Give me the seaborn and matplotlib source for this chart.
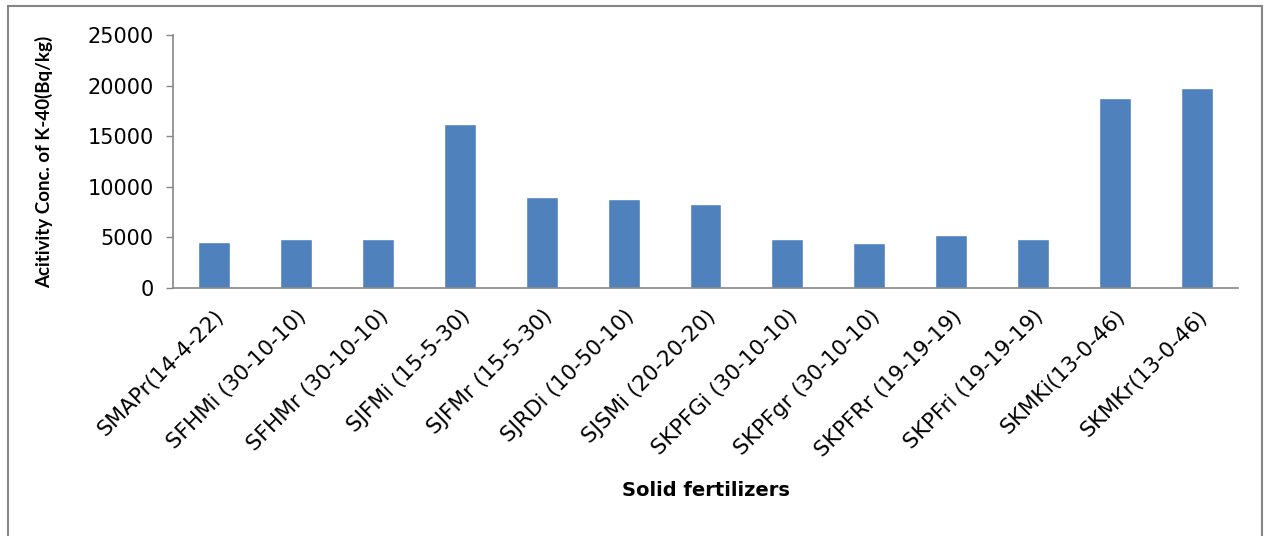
import matplotlib
matplotlib.use("Agg")
import matplotlib.pyplot as plt
import seaborn as sns
import pandas as pd
from matplotlib.patches import Rectangle

samples = [
    "SMAPr(14-4-22)", "SFHMi (30-10-10)", "SFHMr (30-10-10)", "SJFMi (15-5-30)",
    "SJFMr (15-5-30)", "SJRDi (10-50-10)", "SJSMi (20-20-20)", "SKPFGi (30-10-10)",
    "SKPFgr (30-10-10)", "SKPFRr (19-19-19)", "SKPFri (19-19-19)", "SKMKi(13-0-46)",
    "SKMKr(13-0-46)",
]
k40_activity = [4550, 4850, 4850, 16170, 8990, 8760, 8300, 4840, 4450, 5200, 4840, 18740, 19730]
y_ticks = [0, 5000, 10000, 15000, 20000, 25000]

sns.set_theme(style="white")
plt.rcParams["font.family"] = ["DejaVu Sans"]
plt.rcParams["text.color"] = "black"
plt.rcParams["axes.labelcolor"] = "black"
plt.rcParams["xtick.color"] = "black"
plt.rcParams["ytick.color"] = "black"

df = pd.DataFrame({"sample": samples, "activity": k40_activity})

W, H = 1267, 536
fig = plt.figure(figsize=(W / 100, H / 100), dpi=100)
ax = fig.add_axes([173 / W, 1 - 288 / H, (1238 - 173) / W, (288 - 35) / H])

sns.barplot(data=df, x="sample", y="activity", color="#4F81BD", width=0.39,
            saturation=1, ax=ax)

ax.set_ylim(0, 25000)
ax.set_xlim(-0.5, len(samples) - 0.5)
ax.set_yticks(y_ticks)
ax.set_yticklabels([str(v) for v in y_ticks], fontsize=15)
ax.set_xticks(range(len(samples)))
ax.set_xticklabels(samples, rotation=45, ha="right", rotation_mode="anchor", fontsize=15.5)

ax.tick_params(axis="y", which="major", left=True, length=5, width=1,
               color="#868686", labelcolor="black", pad=9)
ax.tick_params(axis="x", which="major", bottom=False, labelcolor="black", pad=7)

for side in ["top", "right"]:
    ax.spines[side].set_visible(False)
for side in ["left", "bottom"]:
    ax.spines[side].set_color("#868686")
    ax.spines[side].set_linewidth(1.2)

ax.set_xlabel("Solid fertilizers", fontsize=14, fontweight="bold", color="black")
ax.set_ylabel("Acitivity Conc. of K-40(Bq/kg)", fontsize=13.5, fontweight="bold",
              color="black", family=["Lato", "DejaVu Sans"])
ax.xaxis.set_label_coords(0.5, -(491 - 288) / (288 - 35))
ax.xaxis.label.set_va("center")
ax.yaxis.set_label_coords(-(173 - 44) / (1238 - 173), (288 - 162) / (288 - 35))
ax.yaxis.label.set_va("center")

# outer chart frame
fig.patches.append(Rectangle((8 / W, -0.05), (1262 - 8) / W, 1.05 - 6 / H,
                             transform=fig.transFigure, fill=False,
                             edgecolor="#868686", linewidth=1.5))

fig.savefig("out.png", dpi=100)
